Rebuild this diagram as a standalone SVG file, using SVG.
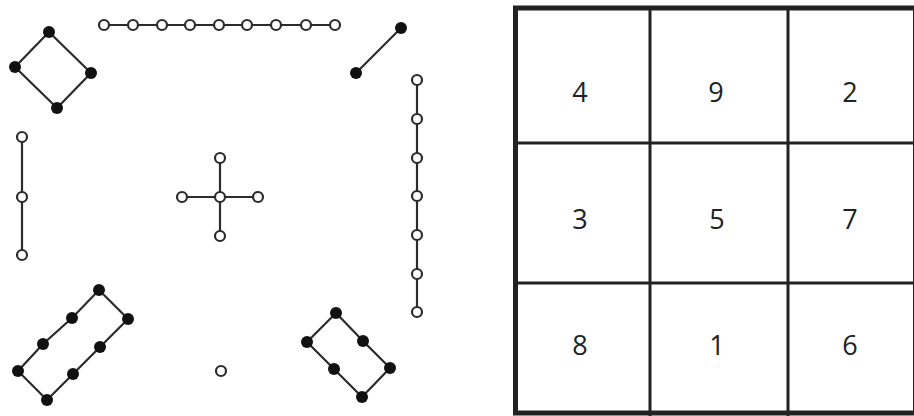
<svg xmlns="http://www.w3.org/2000/svg" width="914" height="416" viewBox="0 0 914 416">
<style>
.ln{stroke:#2b2b2b;stroke-width:2.2;fill:none}
.o{fill:#fff;stroke:#2b2b2b;stroke-width:2.2}
.b{fill:#111;stroke:none}
.grid{stroke:#222;stroke-width:3;fill:none}
.num{font-family:"Open Sans","Noto Sans",sans-serif;font-size:27px;fill:#222;text-anchor:middle}
</style>
<rect width="914" height="416" fill="#fff"/>
<g id="connectors">
<polygon class="ln" points="49,32 91,73 57,108 15,67"/>
<line class="ln" x1="104" y1="25" x2="335" y2="25"/>
<line class="ln" x1="401" y1="28" x2="356" y2="73"/>
<line class="ln" x1="417" y1="80" x2="417" y2="312"/>
<line class="ln" x1="22" y1="137" x2="22" y2="255"/>
<line class="ln" x1="220" y1="158" x2="220" y2="236"/>
<line class="ln" x1="182" y1="197" x2="258" y2="197"/>
<polygon class="ln" points="99,290 128,319 100,347 73,374 47,400 18,371 43,344 72,318"/>
<polygon class="ln" points="336,313 363,341 390,368 362,397 334,369 307,342"/>
</g>
<g id="n4">
<circle class="b" cx="49" cy="32" r="6"/><circle class="b" cx="91" cy="73" r="6"/><circle class="b" cx="57" cy="108" r="6"/><circle class="b" cx="15" cy="67" r="6"/>
</g>
<g id="n9">
<circle class="o" cx="104" cy="25" r="5"/><circle class="o" cx="133" cy="25" r="5"/><circle class="o" cx="162" cy="25" r="5"/><circle class="o" cx="190" cy="25" r="5"/><circle class="o" cx="219" cy="25" r="5"/><circle class="o" cx="247" cy="25" r="5"/><circle class="o" cx="276" cy="25" r="5"/><circle class="o" cx="306" cy="25" r="5"/><circle class="o" cx="335" cy="25" r="5"/>
</g>
<g id="n2">
<circle class="b" cx="401" cy="28" r="6"/><circle class="b" cx="356" cy="73" r="6"/>
</g>
<g id="n7">
<circle class="o" cx="417" cy="80" r="5"/><circle class="o" cx="417" cy="119" r="5"/><circle class="o" cx="417" cy="158" r="5"/><circle class="o" cx="417" cy="196" r="5"/><circle class="o" cx="417" cy="235" r="5"/><circle class="o" cx="417" cy="274" r="5"/><circle class="o" cx="417" cy="312" r="5"/>
</g>
<g id="n3">
<circle class="o" cx="22" cy="137" r="5"/><circle class="o" cx="22" cy="197" r="5"/><circle class="o" cx="22" cy="255" r="5"/>
</g>
<g id="n5">
<circle class="o" cx="220" cy="158" r="5"/><circle class="o" cx="182" cy="197" r="5"/><circle class="o" cx="220" cy="197" r="5"/><circle class="o" cx="258" cy="197" r="5"/><circle class="o" cx="220" cy="236" r="5"/>
</g>
<g id="n8">
<circle class="b" cx="99" cy="290" r="6"/><circle class="b" cx="128" cy="319" r="6"/><circle class="b" cx="100" cy="347" r="6"/><circle class="b" cx="73" cy="374" r="6"/><circle class="b" cx="47" cy="400" r="6"/><circle class="b" cx="18" cy="371" r="6"/><circle class="b" cx="43" cy="344" r="6"/><circle class="b" cx="72" cy="318" r="6"/>
</g>
<g id="n6">
<circle class="b" cx="336" cy="313" r="6"/><circle class="b" cx="363" cy="341" r="6"/><circle class="b" cx="390" cy="368" r="6"/><circle class="b" cx="362" cy="397" r="6"/><circle class="b" cx="334" cy="369" r="6"/><circle class="b" cx="307" cy="342" r="6"/>
</g>
<g id="n1">
<circle class="o" cx="221" cy="371" r="5"/>
</g>
<g id="table">
<rect x="515.5" y="8" width="400" height="405" fill="none" stroke="#222" stroke-width="5"/>
<line class="grid" x1="650" y1="8" x2="650" y2="416"/>
<line class="grid" x1="788" y1="8" x2="788" y2="416"/>
<line class="grid" x1="515" y1="143" x2="914" y2="143"/>
<line class="grid" x1="515" y1="283" x2="914" y2="283"/>
<text class="num" x="580" y="102">4</text>
<text class="num" x="716" y="102">9</text>
<text class="num" x="850" y="102">2</text>
<text class="num" x="580" y="229">3</text>
<text class="num" x="717" y="229">5</text>
<text class="num" x="850" y="229">7</text>
<text class="num" x="580" y="355">8</text>
<text class="num" x="717" y="355">1</text>
<text class="num" x="850" y="355">6</text>
</g>
</svg>
